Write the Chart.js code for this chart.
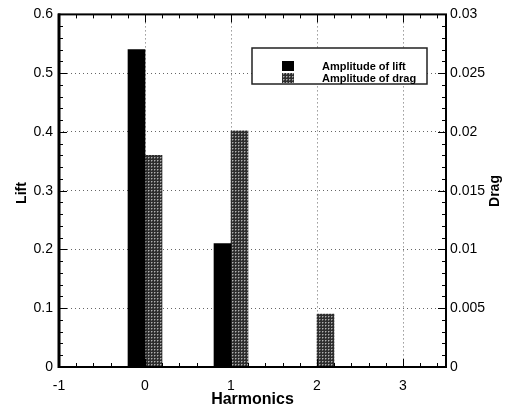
<!DOCTYPE html>
<html>
<head>
<meta charset="utf-8">
<script src="https://cdn.jsdelivr.net/npm/chart.js@4"></script>
<style>
  html, body { margin: 0; padding: 0; background: #fff; }
  #wrap { width: 511px; height: 410px; }
</style>
</head>
<body>
<div id="wrap"><canvas id="myChart"></canvas></div>
<script>
// data
const harmonics = [0, 1, 2, 3];
const liftAmp = [0.54, 0.21, 0, 0];
const dragAmp = [0.018, 0.0201, 0.0045, 0];
const seriesNames = ['Amplitude of lift', 'Amplitude of drag'];

const FONT = "'Liberation Sans', Arial, sans-serif";

// dotted grey fill for the drag bars
function makePattern() {
    const c = document.createElement('canvas');
    c.width = 3; c.height = 3;
    const g = c.getContext('2d');
    g.fillStyle = '#2e2e2e';
    g.fillRect(0, 0, 3, 3);
    g.fillStyle = '#b0b0b0';
    g.fillRect(1, 1, 1, 1);
    g.fillStyle = '#6a6a6a';
    g.fillRect(2, 1, 1, 1);
    g.fillRect(1, 2, 1, 1);
    return g.createPattern(c, 'repeat');
}
const dragFill = makePattern();

// frame, inward ticks, titles and legend
const framePlugin = {
    id: 'frame',
    afterDraw(chart) {
        const {ctx, chartArea: a, scales} = chart;
        const x = scales.x, y = scales.y;
        ctx.save();
        ctx.strokeStyle = '#000';

        // inward ticks
        ctx.lineWidth = 1;
        ctx.beginPath();
        for (let i = 0; i <= 30; i++) {
            const py = Math.round(y.getPixelForValue(i * 0.02)) + 0.5;
            const len = i % 5 === 0 ? 8 : 4;
            ctx.moveTo(a.left, py); ctx.lineTo(a.left + len, py);
            ctx.moveTo(a.right, py); ctx.lineTo(a.right - len, py);
        }
        for (let i = 0; i <= 22; i++) {
            const px = Math.round(x.getPixelForValue(-1 + i * 0.2)) + 0.5;
            const len = i % 5 === 0 ? 8 : 4;
            ctx.moveTo(px, a.top); ctx.lineTo(px, a.top + len);
            ctx.moveTo(px, a.bottom); ctx.lineTo(px, a.bottom - len);
        }
        ctx.stroke();

        // frame
        ctx.lineWidth = 2;
        ctx.strokeRect(a.left, a.top, a.right - a.left, a.bottom - a.top);
        ctx.lineWidth = 3;
        ctx.beginPath();
        ctx.moveTo(a.left, a.top - 1); ctx.lineTo(a.left, a.bottom + 1);
        ctx.stroke();

        // axis titles
        ctx.fillStyle = '#000';
        ctx.textAlign = 'center';
        ctx.textBaseline = 'middle';
        ctx.font = 'bold 16px ' + FONT;
        ctx.fillText('Harmonics', (a.left + a.right) / 2, 400);
        ctx.font = 'bold 14px ' + FONT;
        ctx.translate(22, 193);
        ctx.rotate(-Math.PI / 2);
        ctx.fillText('Lift', 0, 0);
        ctx.setTransform(1, 0, 0, 1, 0, 0);
        ctx.translate(495, 191);
        ctx.rotate(-Math.PI / 2);
        ctx.fillText('Drag', 0, 0);
        ctx.setTransform(1, 0, 0, 1, 0, 0);

        // legend box
        const bx = 252, by = 48, bw = 175, bh = 36;
        ctx.fillStyle = '#fff';
        ctx.fillRect(bx, by, bw, bh);
        ctx.lineWidth = 1.5;
        ctx.strokeStyle = '#222';
        ctx.strokeRect(bx, by, bw, bh);
        ctx.font = 'bold 11px ' + FONT;
        ctx.textAlign = 'left';
        chart.data.datasets.forEach((ds, i) => {
            const ry = 66 + i * 12;
            ctx.fillStyle = ds.backgroundColor;
            ctx.fillRect(282, ry - 5, 12, 10);
            ctx.fillStyle = '#000';
            ctx.fillText(ds.label, 322, ry + 1);
        });
        ctx.restore();
    }
};

const ctx1 = document.getElementById('myChart').getContext('2d');
const myChart = new Chart(ctx1, {
    type: 'bar',
    data: {
        labels: harmonics,
        datasets: [{
            label: seriesNames[0],
            data: liftAmp,
            backgroundColor: '#000',
            yAxisID: 'y',
            barThickness: 17
        }, {
            label: seriesNames[1],
            data: dragAmp,
            backgroundColor: dragFill,
            yAxisID: 'y1',
            barThickness: 17
        }]
    },
    options: {
        responsive: true,
        maintainAspectRatio: false,
        animation: false,
        layout: { padding: { top: 13, left: 0, right: 0, bottom: 0 } },
        plugins: {
            legend: { display: false },
            tooltip: { enabled: false }
        },
        scales: {
            x: {
                type: 'linear',
                min: -1,
                max: 3.5,
                offset: false,
                afterFit: (s) => { s.height = 43; },
                grid: {
                    offset: false,
                    drawTicks: false,
                    color: (c) => (c.tick && (c.tick.value === -1 || c.tick.value === 3.5)) ? 'rgba(0,0,0,0)' : '#666'
                },
                border: { display: false, dash: [1, 3] },
                ticks: {
                    stepSize: 1,
                    padding: 11,
                    color: '#000',
                    font: { family: FONT, size: 14 },
                    callback: (v) => Number.isInteger(v) ? v : ''
                }
            },
            y: {
                position: 'left',
                min: 0,
                max: 0.6,
                afterFit: (s) => { s.width = 59; },
                grid: {
                    drawTicks: false,
                    color: (c) => (c.tick && (c.tick.value === 0 || c.tick.value === 0.6)) ? 'rgba(0,0,0,0)' : '#666'
                },
                border: { display: false, dash: [1, 3] },
                ticks: {
                    stepSize: 0.1,
                    padding: 6,
                    color: '#000',
                    font: { family: FONT, size: 14 },
                    callback: (v) => +v.toFixed(1)
                }
            },
            y1: {
                position: 'right',
                min: 0,
                max: 0.03,
                afterFit: (s) => { s.width = 65; },
                grid: { display: false, drawTicks: false },
                border: { display: false },
                ticks: {
                    stepSize: 0.005,
                    padding: 4,
                    color: '#000',
                    font: { family: FONT, size: 14 },
                    callback: (v) => +v.toFixed(3)
                }
            }
        }
    },
    plugins: [framePlugin]
});
</script>
</body>
</html>
